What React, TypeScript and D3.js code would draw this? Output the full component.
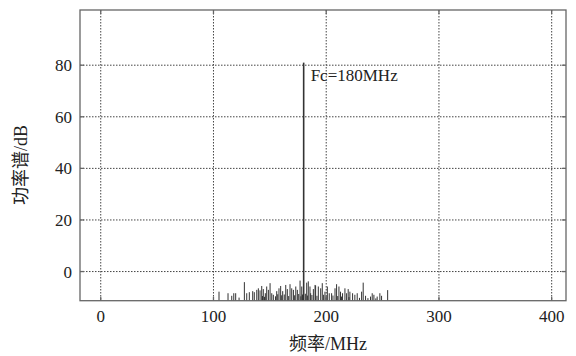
import React from 'react';
import * as d3 from 'd3';

// frequency ticks (MHz) and power ticks (dB)
const xTicks = [0, 100, 200, 300, 400];
const yTicks = [0, 20, 40, 60, 80];

// carrier line
const carrierFreq = 180;
const carrierPower = 81;

// spurious components: frequency (MHz)
const spurFreq = [
  104.9, 112.9, 116.2, 118.0, 119.7, 122.7, 127.4, 129.5, 131.8, 134.8,
  136.2, 138.4, 139.8, 141.3, 142.8, 143.5, 144.2, 145.3, 146.0, 147.2,
  148.7, 150.2, 151.7, 153.1, 155.0, 156.1, 157.0, 158.1, 159.6, 160.5,
  161.4, 162.8, 164.1, 165.5, 166.7, 167.9, 169.4, 170.9, 172.0, 173.0,
  174.4, 175.6, 176.8, 177.5, 178.3, 179.0, 181.5, 182.7, 183.3, 184.1,
  185.6, 186.2, 187.3, 188.6, 190.1, 190.6, 191.8, 193.0, 195.1, 196.5,
  197.7, 198.9, 200.0, 201.0, 202.7, 204.8, 206.0, 207.8, 209.2, 210.2,
  211.3, 212.7, 213.6, 214.5, 216.6, 218.1, 219.5, 220.2, 221.0, 223.4,
  225.4, 227.5, 229.5, 231.4, 232.8, 234.9, 237.0, 239.3, 240.8, 242.3,
  244.0, 245.2, 247.6, 249.1, 254.5,
];
// and their power (dB)
const spurPower = [
  -7.8, -8.4, -9.4, -8.4, -8.4, -10.1, -4.1, -8.4, -8.0, -7.6,
  -8.0, -7.1, -6.5, -7.3, -5.6, -9.5, -6.8, -9.8, -8.4, -5.8,
  -7.1, -4.5, -8.4, -9.0, -9.6, -7.6, -8.8, -6.5, -5.6, -9.2,
  -7.6, -8.9, -5.2, -6.8, -9.5, -4.9, -6.5, -7.1, -9.2, -5.8,
  -7.1, -8.7, -3.5, -9.6, -5.8, -8.9, -8.6, -4.3, -9.3, -3.8,
  -5.8, -8.4, -9.1, -6.8, -5.2, -5.4, -9.4, -5.8, -6.5, -4.5,
  -9.0, -7.8, -9.6, -5.8, -8.4, -8.4, -9.3, -6.5, -4.9, -9.5,
  -5.8, -7.8, -9.7, -8.4, -6.5, -8.4, -6.8, -9.9, -7.8, -8.4,
  -9.0, -8.4, -10.2, -7.8, -4.3, -9.4, -10.3, -9.7, -8.4, -9.0,
  -10.4, -9.7, -8.4, -9.4, -7.2,
];

const W = 576;
const H = 356;
const left = 80, right = 566, top = 10, bottom = 300.7;

const serif = '"Liberation Serif", "Times New Roman", "Noto Sans CJK SC", serif';

export default function App() {
  const x = d3.scaleLinear().domain([-18.4, 412.7]).range([left, right]);
  const y = d3.scaleLinear().domain([-11.3, 101.4]).range([bottom, top]);
  const y0 = y.domain()[0];

  return (
    <svg
      width={W}
      height={H}
      style={{ position: 'absolute', left: 0, top: 0, background: '#fff' }}
    >
      <rect x={0} y={0} width={W} height={H} fill="#fff" />

      {/* grid */}
      <g stroke="#444" strokeWidth={1} strokeDasharray="1.5,1.5">
        {xTicks.map(t => (
          <line key={'gx' + t} x1={x(t)} x2={x(t)} y1={top} y2={bottom} />
        ))}
        {yTicks.map(t => (
          <line key={'gy' + t} x1={left} x2={right} y1={y(t)} y2={y(t)} />
        ))}
      </g>

      {/* spurs */}
      <g stroke="#333" strokeWidth={1}>
        {spurFreq.map((f, i) => (
          <line key={'s' + i} x1={x(f)} x2={x(f)} y1={y(y0)} y2={y(spurPower[i])} />
        ))}
      </g>

      {/* carrier */}
      <line
        x1={x(carrierFreq)}
        x2={x(carrierFreq)}
        y1={y(y0)}
        y2={y(carrierPower)}
        stroke="#333"
        strokeWidth={1.6}
      />
      <text
        x={x(carrierFreq) + 7}
        y={y(carrierPower) + 18}
        fontFamily={serif}
        fontSize={17}
        fill="#222"
      >
        Fc=180MHz
      </text>

      {/* frame and ticks */}
      <g stroke="#666" strokeWidth={1.3}>
        {xTicks.map(t => (
          <g key={'tx' + t}>
            <line x1={x(t)} x2={x(t)} y1={bottom} y2={bottom - 4} />
            <line x1={x(t)} x2={x(t)} y1={top} y2={top + 4} />
          </g>
        ))}
        {yTicks.map(t => (
          <g key={'ty' + t}>
            <line x1={left} x2={left + 4} y1={y(t)} y2={y(t)} />
            <line x1={right} x2={right - 4} y1={y(t)} y2={y(t)} />
          </g>
        ))}
        <rect x={left} y={top} width={right - left} height={bottom - top} fill="none" />
      </g>

      {/* tick labels */}
      <g fontFamily={serif} fontSize={17} fill="#222">
        {xTicks.map(t => (
          <text key={'lx' + t} x={x(t)} y={bottom + 21} textAnchor="middle">
            {t}
          </text>
        ))}
        {yTicks.map(t => (
          <text key={'ly' + t} x={left - 8} y={y(t)} dy="0.35em" textAnchor="end">
            {t}
          </text>
        ))}
      </g>

      {/* axis titles */}
      <text
        x={328}
        y={350}
        textAnchor="middle"
        fontFamily={serif}
        fontSize={18}
        fill="#222"
      >
        频率/MHz
      </text>
      <text
        transform={`translate(27,${165}) rotate(-90)`}
        textAnchor="middle"
        fontFamily={serif}
        fontSize={18}
        fill="#222"
      >
        功率谱/dB
      </text>
    </svg>
  );
}
